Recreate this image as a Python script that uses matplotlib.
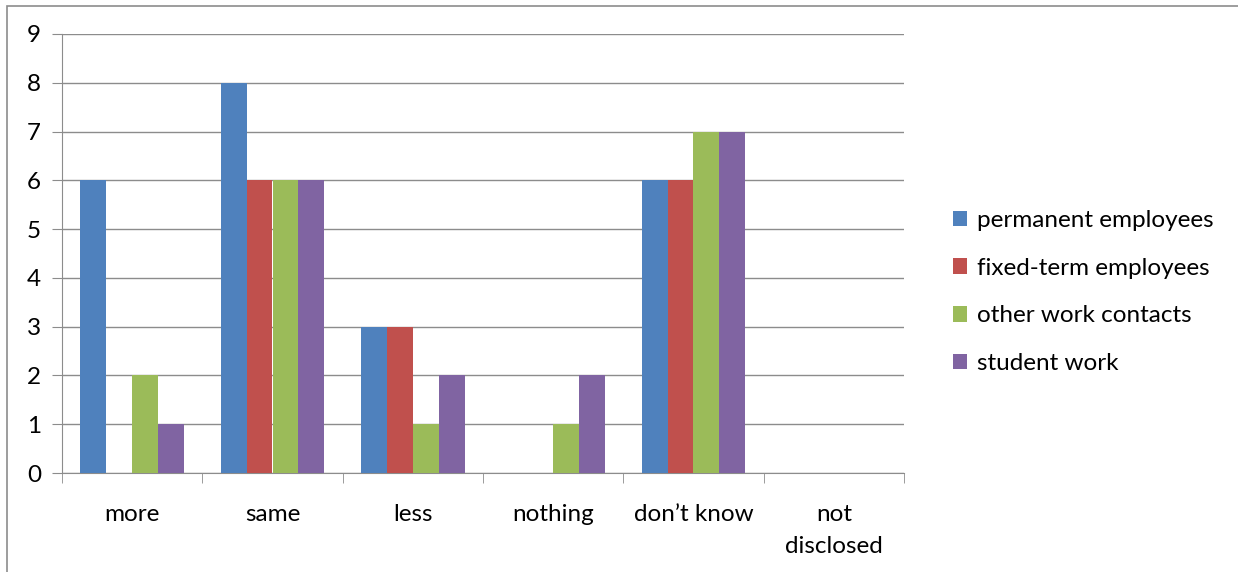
import numpy as np
import matplotlib
matplotlib.use("Agg")
from matplotlib import pyplot as plt
from matplotlib.patches import Rectangle

# data
categories = ["more", "same", "less", "nothing", "don\u2019t know", "not\ndisclosed"]
series_names = ["permanent employees", "fixed-term employees",
                "other work contacts", "student work"]
permanent = [6, 8, 3, 0, 6, 0]
fixed_term = [0, 6, 3, 0, 6, 0]
other_work = [2, 6, 1, 1, 7, 0]
student = [1, 6, 2, 2, 7, 0]
colors = ["#4F81BD", "#C0504D", "#9BBB59", "#8064A2"]

plt.rcParams['font.family'] = ['Lato', 'DejaVu Sans']
fs = 17.5

W, H = 1238, 572
fig = plt.figure(figsize=(W / 100, H / 100), dpi=100)

# outer chart frame (cut off at right and bottom)
fig.patches.append(Rectangle((7 / W, -0.1), 1.2, 1 - 6 / H + 0.1,
                             transform=fig.transFigure, fill=False,
                             edgecolor="#8c8c8c", linewidth=1.2))

ax = fig.add_axes([62 / W, 1 - 473 / H, (904 - 62) / W, (473 - 34) / H])

x = np.arange(len(categories))
bw = 0.185
all_series = [permanent, fixed_term, other_work, student]
for i, (vals, name, c) in enumerate(zip(all_series, series_names, colors)):
    ax.bar(x + (i - 1.5) * bw, vals, bw, color=c, label=name, zorder=3)

ax.set_xlim(-0.5, len(categories) - 0.5)
ax.set_ylim(0, 9)
ax.set_yticks(range(10))
ax.yaxis.grid(True, color="#8c8c8c", linewidth=1, zorder=0)

ax.set_xticks(x)
ax.set_xticklabels(categories, fontsize=fs, linespacing=1.7)
ax.set_xticks(np.arange(-0.5, len(categories)), minor=True)
ax.tick_params(axis="x", which="major", length=0, pad=22)
ax.tick_params(axis="x", which="minor", length=7, color="#8c8c8c", direction="out")
ax.tick_params(axis="y", length=7, color="#8c8c8c", labelsize=fs, pad=8)

for s in ["top", "right"]:
    ax.spines[s].set_visible(False)
ax.spines["left"].set_color("#8c8c8c")
ax.spines["bottom"].set_color("#8c8c8c")

ax.legend(loc="center left", bbox_to_anchor=(931 / W, 1 - 292 / H),
          bbox_transform=fig.transFigure, frameon=False, fontsize=fs,
          handlelength=0.6, handleheight=0.6, handletextpad=0.4,
          labelspacing=1.1)

plt.savefig("out.png", dpi=100)
